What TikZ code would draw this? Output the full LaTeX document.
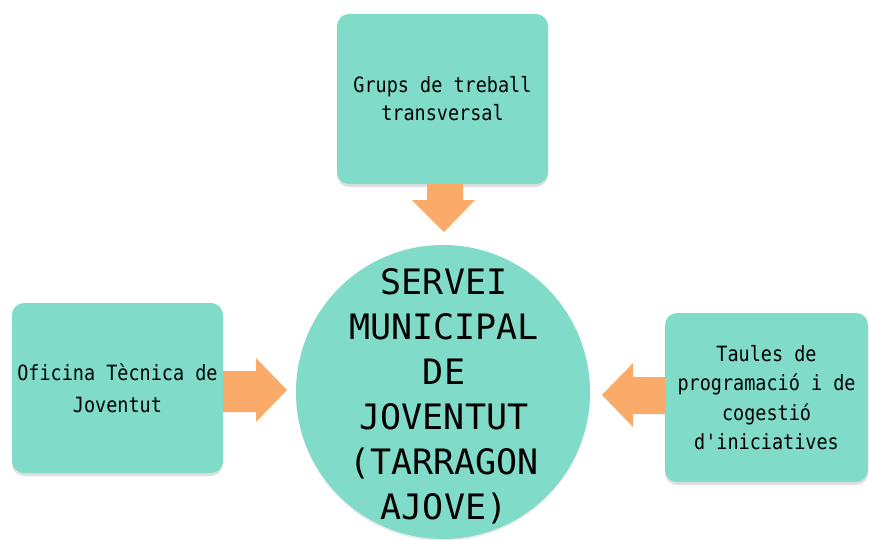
\documentclass[tikz,border=0pt]{standalone}
\usepackage{fontspec}
\newfontfamily\boxfont[FakeStretch=0.88]{DejaVu Sans Mono}
\newfontfamily\circfont{DejaVu Sans Mono}
\usetikzlibrary{shadows}
\definecolor{tealfill}{RGB}{128,219,201}
\definecolor{arrfill}{RGB}{250,170,105}
\begin{document}
\begin{tikzpicture}[x=1pt,y=-1pt,
  box/.style={draw=none, fill=tealfill, rounded corners=12pt,
    drop shadow={opacity=0.25, shadow xshift=0pt, shadow yshift=-3pt},
    align=center, inner sep=0pt},
  hub/.style={circle, draw=none, fill=tealfill, inner sep=0pt,
    drop shadow={opacity=0.15, shadow xshift=0pt, shadow yshift=-2pt}},
  hubtext/.style={align=center, inner sep=0pt,
    font=\circfont\fontsize{35}{45}\selectfont},
  blockarrow/.style={fill=arrfill}]
\useasboundingbox (0,0) rectangle (869,539);
\fill[white] (0,0) rectangle (869,539);

\node[box, minimum width=211pt, minimum height=170pt,
  font=\boxfont\fontsize{21}{28}\selectfont] (topbox) at (442.5,99)
  {Grups de treball\\transversal};
\node[box, minimum width=211pt, minimum height=170pt,
  font=\boxfont\fontsize{21}{32}\selectfont] (leftbox) at (117.5,388)
  {Oficina Tècnica de\\Joventut};
\node[box, minimum width=203pt, minimum height=169pt,
  font=\boxfont\fontsize{21}{29.5}\selectfont] (rightbox) at (766.5,397.5)
  {Taules de\\programació i de\\cogestió\\d'iniciatives};
\node[hub, minimum size=294pt] (hub) at (443,392) {};
\node[hubtext] (hublabel) at (444,396)
  {SERVEI\\MUNICIPAL\\DE\\JOVENTUT\\(TARRAGON\\AJOVE)};

% block arrows
\fill[blockarrow] (427,184) -- (463,184) -- (463,200) -- (475,200) -- (444,232)
  -- (412,200) -- (427,200) -- cycle;
\fill[blockarrow] (223,371) -- (256,371) -- (256,358) -- (287,390) -- (256,422)
  -- (256,412) -- (223,412) -- cycle;
\fill[blockarrow] (665,377) -- (633,377) -- (633,363) -- (602,395) -- (633,427)
  -- (633,414) -- (665,414) -- cycle;
\end{tikzpicture}
\end{document}
